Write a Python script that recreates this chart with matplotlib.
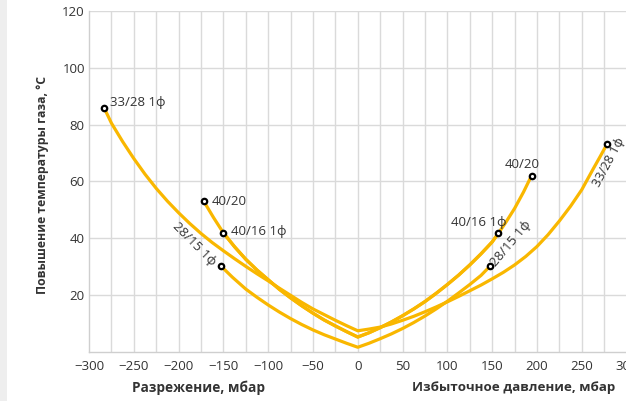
import matplotlib
matplotlib.use("Agg")
import matplotlib.pyplot as plt
from matplotlib.patches import Rectangle

plt.rcParams['font.family'] = ['Open Sans', 'DejaVu Sans']

# Gas temperature rise vs. pressure (negative = vacuum, positive = overpressure)
s3328_x = [-283, -275, -262.5, -250, -237.5, -225, -212.5, -200, -187.5, -175, -162.5,
           -150, -137.5, -125, -112.5, -100, -87.5, -75, -62.5, -50, -37.5, -25, -12.5, 0,
           12.5, 25, 37.5, 50, 62.5, 75, 87.5, 100, 112.5, 125, 137.5, 150, 162.5,
           175, 187.5, 200, 212.5, 225, 237.5, 250, 262.5, 270, 278]
s3328_y = [85.8, 80.5, 74, 68, 62.5, 57.5, 53, 48.9, 45.1, 41.6, 38.4,
           35.5, 32.7, 30, 27.4, 24.9, 22.3, 19.8, 17.3, 15, 13, 11, 9.1, 7.3,
           7.9, 8.6, 9.7, 11, 12.4, 14, 15.7, 17.5, 19.4, 21.4, 23.4, 25.6, 27.9,
           30.5, 33.5, 37, 41.2, 46, 51.2, 57, 64.2, 68.4, 73]

s4020_x = [-172, -161, -150, -137.5, -125, -112.5, -100, -87.5, -75, -62.5, -50,
           -37.5, -25, -12.5, 0, 12.5, 25, 37.5, 50, 62.5, 75, 87.5, 100, 112.5,
           125, 137.5, 150, 157, 165, 175, 185, 194]
s4020_y = [53, 47.2, 41.8, 36.9, 32.5, 28.7, 25.3, 21.9, 18.9, 16.1, 13.5,
           11.1, 9, 7, 5.1, 6.6, 8.4, 10.4, 12.6, 15, 17.6, 20.5, 23.6, 26.9,
           30.5, 34.4, 38.6, 41.7, 45.4, 50.4, 56.2, 62]

s4016_x = [-150, -137.5, -125, -112.5, -100, -87.5, -75, -62.5, -50, -37.5, -25,
           -12.5, 0, 12.5, 25, 37.5, 50, 62.5, 75, 87.5, 100, 112.5, 125, 137.5, 150, 157]
s4016_y = [41.8, 36.9, 32.5, 28.7, 25.3, 21.9, 18.9, 16.1, 13.5, 11.1, 9,
           7, 5.1, 6.6, 8.4, 10.4, 12.6, 15, 17.6, 20.5, 23.6, 26.9, 30.5, 34.4, 38.6, 41.7]

s2815_x = [-153, -140, -125, -112.5, -100, -87.5, -75, -62.5, -50, -37.5, -25, -12.5, 0,
           12.5, 25, 37.5, 50, 62.5, 75, 87.5, 100, 112.5, 125, 137.5, 148]
s2815_y = [30.2, 26.2, 22, 19.1, 16.4, 13.9, 11.6, 9.5, 7.6, 5.9, 4.4, 2.9, 1.5,
           2.9, 4.5, 6.2, 8.1, 10.2, 12.5, 15, 17.7, 20.6, 23.6, 26.8, 30.2]

series_names = ["33/28 1ф", "40/20", "40/16 1ф", "28/15 1ф"]

x_ticks = [-300, -250, -200, -150, -100, -50, 0, 50, 100, 150, 200, 250, 300]
y_ticks = [20, 40, 60, 80, 100, 120]

LINE = "#F9B700"
GRID = "#DADADA"
TEXT = "#333333"

W, H = 626, 401
fig = plt.figure(figsize=(W / 100, H / 100), dpi=100)
fig.patches.append(Rectangle((0, 0), 7 / W, 1, transform=fig.transFigure,
                             facecolor="#EEEEEE", edgecolor="none", zorder=0))

ax = fig.add_axes([89 / W, (H - 351.5) / H, 538 / W, 340.5 / H])
ax.set_xlim(-295.5, 300.5)
ax.set_ylim(0, 120)

for x in range(-275, 301, 25):
    ax.axvline(x, color=GRID, lw=1.0, zorder=0)
for y in y_ticks:
    ax.axhline(y, color=GRID, lw=1.0, zorder=0)

for side in ("top", "right"):
    ax.spines[side].set_visible(False)
for side in ("left", "bottom"):
    ax.spines[side].set_color("#CFCFCF")
    ax.spines[side].set_linewidth(1.0)

ax.set_xticks(x_ticks)
ax.set_yticks(y_ticks)
ax.tick_params(length=0, labelsize=9.5, labelcolor=TEXT)
ax.tick_params(axis="x", pad=6)
ax.tick_params(axis="y", pad=3)

all_series = [(s3328_x, s3328_y), (s4020_x, s4020_y), (s4016_x, s4016_y), (s2815_x, s2815_y)]
for xs, ys in all_series:
    ax.plot(xs, ys, color=LINE, lw=2.3, solid_capstyle="round",
            solid_joinstyle="round", zorder=3)
    ax.plot([xs[0], xs[-1]], [ys[0], ys[-1]], ls="none", marker="o", ms=3.9,
            mfc="white", mec="black", mew=1.6, zorder=5, clip_on=False)

def label(text, x, y, dx, dy, rot=0, ha=None, size=9.5):
    ax.annotate(text, (x, y), xytext=(dx, dy), textcoords="offset points",
                ha=ha or ("center" if rot else "left"), va="center", rotation=rot,
                rotation_mode="anchor", fontsize=size, color=TEXT, zorder=6,
                annotation_clip=False)

# left-hand end points
label(series_names[0], s3328_x[0], s3328_y[0], 4.1, 4.3)
label(series_names[1], s4020_x[0], s4020_y[0], 5.8, 0)
label(series_names[2], s4016_x[0], s4016_y[0], 5.5, 0.7)
label(series_names[3], s2815_x[0], s2815_y[0], -18.7, 15.8, rot=-45)

# right-hand end points
label(series_names[1], s4020_x[-1], s4020_y[-1], -6.5, 8, ha="center")
label(series_names[2], s4016_x[-1], s4016_y[-1], -14.4, 7.6, ha="center")
label(series_names[3], s2815_x[-1], s2815_y[-1], 14.5, 15.7, rot=50)
label(series_names[0], s3328_x[-1], s3328_y[-1], 1.6, -13.2, rot=62, size=9.2)

fig.text(199 / W, 1 - 388 / H, "Разрежение, мбар", ha="center", va="center",
         fontsize=9.8, fontweight="bold", color=TEXT)
fig.text(514 / W, 1 - 388 / H, "Избыточное давление, мбар", ha="center", va="center",
         fontsize=9.6, fontweight="bold", color=TEXT)
fig.text(43 / W, 1 - 185 / H, "Повышение температуры газа, °С", ha="center",
         va="center", rotation=90, fontsize=8.8, fontweight="bold", color=TEXT)

fig.savefig("out.png", dpi=100)
